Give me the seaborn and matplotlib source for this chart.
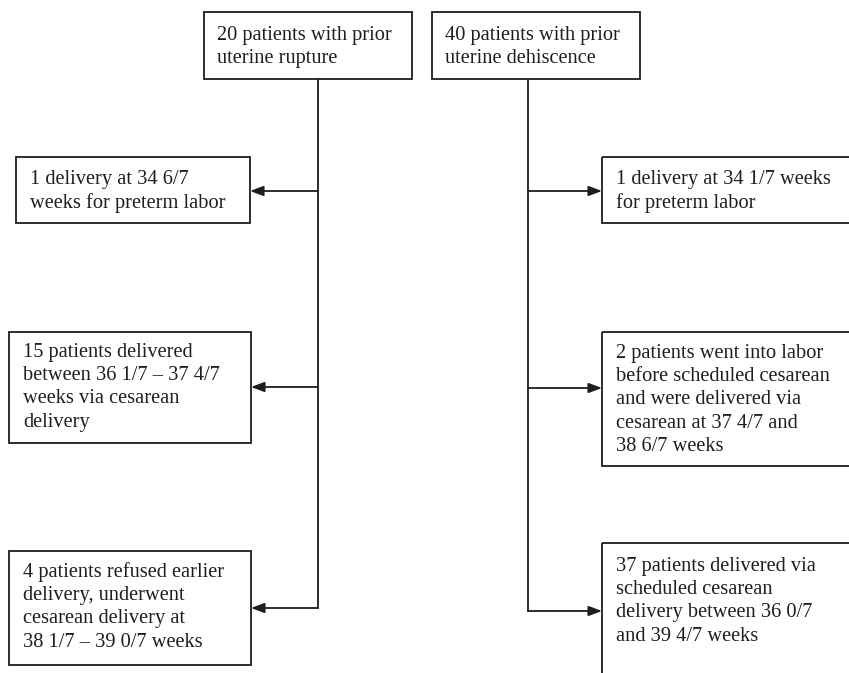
import matplotlib
matplotlib.use("Agg")
import matplotlib.pyplot as plt
import matplotlib.patches as mpatches
import seaborn as sns

sns.set_style("white")
plt.rcParams['font.family'] = ['Liberation Serif', 'DejaVu Serif']

# Flowchart text content
top_labels = ["20 patients with prior\nuterine rupture",
              "40 patients with prior\nuterine dehiscence"]
left_labels = ["1 delivery at 34 6/7\nweeks for preterm labor",
               "15 patients delivered\nbetween 36 1/7 \u2013 37 4/7\nweeks via cesarean\ndelivery",
               "4 patients refused earlier\ndelivery, underwent\ncesarean delivery at\n38 1/7 \u2013 39 0/7 weeks"]
right_labels = ["1 delivery at 34 1/7 weeks\nfor preterm labor",
                "2 patients went into labor\nbefore scheduled cesarean\nand were delivered via\ncesarean at 37 4/7 and\n38 6/7 weeks",
                "37 patients delivered via\nscheduled cesarean\ndelivery between 36 0/7\nand 39 4/7 weeks"]

# layout in pixel coordinates (x0, y0, x1, y1)
top_boxes = [(204, 12, 412, 79), (432, 12, 640, 79)]
left_boxes = [(16, 157, 250, 223), (9, 332, 251, 443), (9, 551, 251, 665)]
right_boxes = [(602, 157, 870, 223), (602, 332, 870, 466), (602, 543, 870, 700)]
top_text_pos = [(217, 26), (445, 26)]
left_text_pos = [(30, 170), (23, 343), (23, 562)]
right_text_pos = [(616, 170), (616, 344), (616, 557)]
left_arrow_y = [191, 387, 608]
right_arrow_y = [191, 388, 611]
spine_x = [318, 528]

fig = plt.figure(figsize=(8.49, 6.73), dpi=100)
ax = fig.add_axes([0, 0, 1, 1])
ax.set_xlim(0, 849)
ax.set_ylim(673, 0)
ax.axis("off")

ink = "#1e1e1e"
line_kw = dict(color=ink, lw=1.3)
fs = 14.7


def box(b, label, pos):
    x0, y0, x1, y1 = b
    ax.add_patch(mpatches.Rectangle((x0, y0), x1 - x0, y1 - y0, fill=False,
                                    edgecolor=ink, lw=1.3))
    ax.text(pos[0], pos[1], label, ha="left", va="top", fontsize=fs,
            color=ink, linespacing=1.3)


for b, lab, p in zip(top_boxes, top_labels, top_text_pos):
    box(b, lab, p)
for b, lab, p in zip(left_boxes, left_labels, left_text_pos):
    box(b, lab, p)
for b, lab, p in zip(right_boxes, right_labels, right_text_pos):
    box(b, lab, p)

# vertical connectors
ax.plot([spine_x[0], spine_x[0]], [79, left_arrow_y[-1]], **line_kw)
ax.plot([spine_x[1], spine_x[1]], [79, right_arrow_y[-1]], **line_kw)

arrow_kw = dict(arrowstyle="-|>,head_length=0.8,head_width=0.3",
                color=ink, lw=1.3, shrinkA=0, shrinkB=0)
for y, b in zip(left_arrow_y, left_boxes):
    ax.annotate("", xy=(b[2], y), xytext=(spine_x[0], y), arrowprops=arrow_kw)
for y, b in zip(right_arrow_y, right_boxes):
    ax.annotate("", xy=(b[0], y), xytext=(spine_x[1], y), arrowprops=arrow_kw)

fig.savefig("out.png", dpi=100, facecolor="white")
